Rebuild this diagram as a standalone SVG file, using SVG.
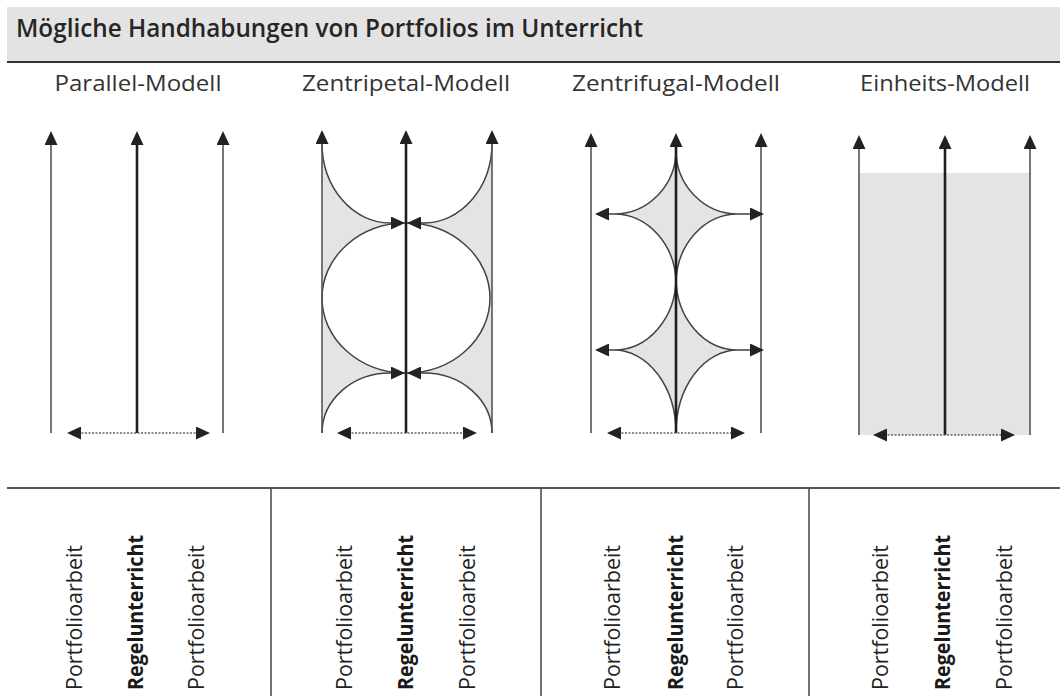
<svg xmlns="http://www.w3.org/2000/svg" width="1060" height="696" viewBox="0 0 1060 696">
<defs>
<marker id="ah" viewBox="0 0 14 13" refX="10" refY="6.5" markerWidth="14" markerHeight="13" markerUnits="userSpaceOnUse" orient="auto-start-reverse"><path d="M0,0 L14,6.5 L0,13 Z" fill="#222"/></marker>
<style>
.side{stroke:#555;stroke-width:1.6;fill:none;marker-end:url(#ah)}
.main{stroke:#1e1e1e;stroke-width:2.6;fill:none;marker-end:url(#ah)}
.dot{stroke:#666;stroke-width:1.4;stroke-dasharray:2 1.5;fill:none;marker-start:url(#ah);marker-end:url(#ah)}
.curve{stroke:#444;stroke-width:1.5;fill:none}
.shade{fill:#e4e4e4;stroke:none}
.tip{stroke:#333;stroke-width:1.4;fill:none;marker-end:url(#ah)}
.sub{font-family:"Open Sans","Liberation Sans",sans-serif;font-size:21px;fill:#333;text-anchor:middle}
.vt{font-family:"Open Sans","Liberation Sans",sans-serif;font-size:22px;fill:#222}
.vb{font-family:"Open Sans","Liberation Sans",sans-serif;font-size:22px;font-weight:700;fill:#1a1a1a}
.rule{stroke:#555;stroke-width:2}
.div{stroke:#444;stroke-width:1.5}
</style>
</defs>
<rect width="1060" height="696" fill="#fff"/>
<g id="header">
<rect x="7" y="7" width="1053" height="55" fill="#e3e3e3"/>
<line x1="7" y1="62" x2="1060" y2="62" stroke="#333" stroke-width="2"/>
<text x="16" y="37" font-family="Open Sans, Liberation Sans, sans-serif" font-size="26" font-weight="600" fill="#262626" textLength="627" lengthAdjust="spacingAndGlyphs">Mögliche Handhabungen von Portfolios im Unterricht</text>
</g>
<g id="model-parallel">
<text class="sub" x="138" y="91" textLength="167" lengthAdjust="spacingAndGlyphs">Parallel-Modell</text>
<path class="side" d="M51,433 V135"/>
<path class="main" d="M137,433 V135"/>
<path class="side" d="M223,433 V135"/>
<path class="dot" d="M71,433 H206"/>
</g>
<g id="model-zentripetal">
<text class="sub" x="406" y="91" textLength="208" lengthAdjust="spacingAndGlyphs">Zentripetal-Modell</text>
<path class="shade" d="M322,143 L322,433 A68,60 0 0 1 390,373 L406,373 A84,75 0 0 1 406,223 L390,223 A68,80 0 0 1 322,143 Z"/>
<path class="shade" d="M492,143 L492,433 A68,60 0 0 0 424,373 L406,373 A84,75 0 0 0 406,223 L424,223 A68,80 0 0 0 492,143 Z"/>
<path class="curve" d="M322,143 A68,80 0 0 0 390,223"/>
<path class="curve" d="M492,143 A68,80 0 0 1 424,223"/>
<path class="curve" d="M322,433 A68,60 0 0 1 390,373"/>
<path class="curve" d="M492,433 A68,60 0 0 0 424,373"/>
<ellipse class="curve" cx="406" cy="298" rx="84" ry="75"/>
<path class="side" d="M322,433 V134"/>
<path class="main" d="M406,433 V134"/>
<path class="side" d="M492,433 V134"/>
<path class="tip" d="M390,223 H401"/>
<path class="tip" d="M424,223 H411"/>
<path class="tip" d="M390,373 H401"/>
<path class="tip" d="M424,373 H411"/>
<path class="dot" d="M341,433 H473"/>
</g>
<g id="model-zentrifugal">
<text class="sub" x="676" y="91" textLength="208" lengthAdjust="spacingAndGlyphs">Zentrifugal-Modell</text>
<path class="shade" d="M676,150 A62,64 0 0 1 614,214 A62,70 0 0 1 676,284 A62,70 0 0 1 738,214 A62,64 0 0 1 676,150 Z"/>
<path class="shade" d="M676,278 A62,72 0 0 1 614,350 A62,83 0 0 1 676,433 A62,83 0 0 1 738,350 A62,72 0 0 1 676,278 Z"/>
<path class="curve" d="M676,150 A62,64 0 0 1 614,214 A62,70 0 0 1 676,284 A62,70 0 0 1 738,214 A62,64 0 0 1 676,150 Z"/>
<path class="curve" d="M676,278 A62,72 0 0 1 614,350 A62,83 0 0 1 676,433 A62,83 0 0 1 738,350 A62,72 0 0 1 676,278 Z"/>
<path class="side" d="M591,433 V137"/>
<path class="main" d="M676,433 V137"/>
<path class="side" d="M761,433 V137"/>
<path class="tip" d="M614,214 H599"/>
<path class="tip" d="M738,214 H760"/>
<path class="tip" d="M614,350 H599"/>
<path class="tip" d="M738,350 H760"/>
<path class="dot" d="M611,433 H741"/>
</g>
<g id="model-einheit">
<text class="sub" x="945" y="91" textLength="170" lengthAdjust="spacingAndGlyphs">Einheits-Modell</text>
<rect class="shade" x="859" y="173" width="171" height="262"/>
<path class="side" d="M859,435 V139"/>
<path class="main" d="M945,435 V139"/>
<path class="side" d="M1030,435 V139"/>
<path class="dot" d="M877,435 H1011"/>
</g>
<g id="table">
<line class="rule" x1="7" y1="488" x2="1060" y2="488"/>
<line class="div" x1="271" y1="488" x2="271" y2="696"/>
<line class="div" x1="541" y1="488" x2="541" y2="696"/>
<line class="div" x1="809" y1="488" x2="809" y2="696"/>
</g>
<g id="labels-parallel">
<text class="vt" transform="translate(82,690) rotate(-90)" textLength="145" lengthAdjust="spacingAndGlyphs">Portfolioarbeit</text>
<text class="vb" transform="translate(143,690) rotate(-90)" textLength="155" lengthAdjust="spacingAndGlyphs">Regelunterricht</text>
<text class="vt" transform="translate(204,690) rotate(-90)" textLength="145" lengthAdjust="spacingAndGlyphs">Portfolioarbeit</text>
</g>
<g id="labels-zentripetal">
<text class="vt" transform="translate(352,690) rotate(-90)" textLength="145" lengthAdjust="spacingAndGlyphs">Portfolioarbeit</text>
<text class="vb" transform="translate(413,690) rotate(-90)" textLength="155" lengthAdjust="spacingAndGlyphs">Regelunterricht</text>
<text class="vt" transform="translate(475,690) rotate(-90)" textLength="145" lengthAdjust="spacingAndGlyphs">Portfolioarbeit</text>
</g>
<g id="labels-zentrifugal">
<text class="vt" transform="translate(620,690) rotate(-90)" textLength="145" lengthAdjust="spacingAndGlyphs">Portfolioarbeit</text>
<text class="vb" transform="translate(683,690) rotate(-90)" textLength="155" lengthAdjust="spacingAndGlyphs">Regelunterricht</text>
<text class="vt" transform="translate(743,690) rotate(-90)" textLength="145" lengthAdjust="spacingAndGlyphs">Portfolioarbeit</text>
</g>
<g id="labels-einheit">
<text class="vt" transform="translate(888,690) rotate(-90)" textLength="145" lengthAdjust="spacingAndGlyphs">Portfolioarbeit</text>
<text class="vb" transform="translate(950,690) rotate(-90)" textLength="155" lengthAdjust="spacingAndGlyphs">Regelunterricht</text>
<text class="vt" transform="translate(1012,690) rotate(-90)" textLength="145" lengthAdjust="spacingAndGlyphs">Portfolioarbeit</text>
</g>
</svg>
